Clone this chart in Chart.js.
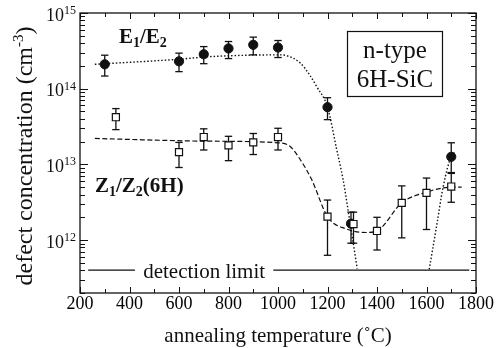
<!DOCTYPE html>
<html>
<head>
<meta charset="utf-8">
<script src="https://cdn.jsdelivr.net/npm/chart.js@4.4.1/dist/chart.umd.min.js"></script>
<style>
html, body { margin: 0; padding: 0; background: #fff; }
#wrap { width: 500px; height: 348px; }
</style>
</head>
<body>
<div id="wrap"><canvas id="chart" width="500" height="348"></canvas></div>
<script>
// E1/E2 (filled circles)
const eTemps = [300, 600, 700, 800, 900, 1000, 1200, 1295, 1700];
const eConc  = [2.1e14, 2.3e14, 2.85e14, 3.4e14, 3.8e14, 3.5e14, 5.7e13, 1.65e12, 1.26e13];
const eLow   = [1.47e14, 1.68e14, 2.14e14, 2.5e14, 2.8e14, 2.58e14, 3.9e13, 9.1e11, 7.8e12];
const eHigh  = [2.77e14, 2.95e14, 3.6e14, 4.2e14, 4.8e14, 4.33e14, 7.6e13, 2.34e12, 1.93e13];

// Z1/Z2(6H) (open squares)
const zTemps = [345, 600, 700, 800, 900, 1000, 1200, 1305, 1400, 1500, 1600, 1700];
const zConc  = [4.2e13, 1.45e13, 2.3e13, 1.78e13, 1.95e13, 2.3e13, 2.04e12, 1.63e12, 1.32e12, 3.1e12, 4.2e12, 5.1e12];
const zLow   = [2.88e13, 9.1e12, 1.55e13, 1.12e13, 1.35e13, 1.55e13, 6.3e11, 9.1e11, 7.4e11, 1.07e12, 1.38e12, 3.16e12];
const zHigh  = [5.46e13, 1.95e13, 2.95e13, 2.35e13, 2.56e13, 3.0e13, 3.38e12, 2.34e12, 2.0e12, 5.2e12, 6.6e12, 7.6e12];

// fit curves
const eFitLeftT  = [260, 600, 725, 1010, 1040, 1089, 1129, 1156, 1200, 1237, 1263, 1291, 1320];
const eFitLeftC  = [2.1e14, 2.45e14, 2.65e14, 2.8e14, 2.7e14, 2.2e14, 1.5e14, 1.07e14, 5.7e13, 1.58e13, 6.3e12, 1.7e12, 4.2e11];
const eFitRightT = [1611, 1641, 1668, 1701, 1719];
const eFitRightC = [4.1e11, 1.55e12, 5.2e12, 1.3e13, 1.45e13];
const zFitT = [260, 700, 1000, 1048, 1089, 1136, 1200, 1277, 1358, 1400, 1500, 1600, 1700, 1742];
const zFitC = [2.2e13, 2.03e13, 1.93e13, 1.74e13, 1.17e13, 6.3e12, 2.04e12, 1.4e12, 1.26e12, 1.32e12, 3.1e12, 4.3e12, 5.0e12, 5.0e12];

// detection limit line, split around its label
const detLimit = 4e11;
const detSegments = [[233, 422], [981, 1773]];

const xTicks = [200, 400, 600, 800, 1000, 1200, 1400, 1600, 1800];
const yDecades = [12, 13, 14, 15];

const SERIF = "'Liberation Serif', 'Times New Roman', serif";
const INK = '#111';

function pts(xs, ys) {
    return xs.map((x, i) => ({ x: x, y: ys[i] }));
}

function errorBars(xs, lo, hi) {
    const out = [];
    xs.forEach((x, i) => {
        out.push({ x: x, y: lo[i] }, { x: x, y: hi[i] }, { x: x, y: null });
    });
    return out;
}

function detData() {
    const out = [];
    detSegments.forEach(s => {
        out.push({ x: s[0], y: detLimit }, { x: s[1], y: detLimit }, { x: s[1], y: null });
    });
    return out;
}

function richText(ctx, parts, x, y, align) {
    let w = 0;
    parts.forEach(p => { ctx.font = p.font; p.w = ctx.measureText(p.t).width; w += p.w; });
    let cx = align === 'center' ? x - w / 2 : align === 'right' ? x - w : x;
    ctx.textAlign = 'left';
    ctx.textBaseline = 'alphabetic';
    parts.forEach(p => {
        ctx.font = p.font;
        ctx.fillText(p.t, cx, y + (p.dy || 0));
        cx += p.w;
    });
}

const decorations = {
    id: 'decorations',
    afterDraw(chart) {
        const ctx = chart.ctx;
        const a = chart.chartArea;
        const xs = chart.scales.x, ys = chart.scales.y;
        ctx.save();
        ctx.strokeStyle = INK;
        ctx.fillStyle = INK;

        // frame
        ctx.lineWidth = 1.3;
        ctx.strokeRect(a.left, a.top, a.right - a.left, a.bottom - a.top);

        // x ticks, inward on bottom and top
        ctx.lineWidth = 1;
        ctx.beginPath();
        for (let v = 200; v <= 1800; v += 100) {
            const px = Math.round(xs.getPixelForValue(v)) + 0.5;
            const len = v % 200 === 0 ? 6 : 4;
            ctx.moveTo(px, a.bottom); ctx.lineTo(px, a.bottom - len);
            ctx.moveTo(px, a.top); ctx.lineTo(px, a.top + len);
        }
        // y ticks, log minors
        for (let e = 11; e <= 15; e++) {
            for (let m = 1; m <= 9; m++) {
                const v = m * Math.pow(10, e);
                if (v < ys.min * 0.999 || v > ys.max * 1.001) continue;
                const py = Math.round(ys.getPixelForValue(v)) + 0.5;
                const len = m === 1 ? 8 : 5;
                ctx.moveTo(a.left, py); ctx.lineTo(a.left + len, py);
                ctx.moveTo(a.right, py); ctx.lineTo(a.right - len, py);
            }
        }
        ctx.stroke();

        // y tick labels 10^n
        yDecades.forEach(n => {
            const py = ys.getPixelForValue(Math.pow(10, n));
            richText(ctx, [
                { t: '10', font: '18px ' + SERIF },
                { t: String(n), font: '12px ' + SERIF, dy: -6.6 }
            ], 76, py + 7.6, 'right');
        });

        // axis titles
        ctx.save();
        ctx.translate(32, 156);
        ctx.rotate(-Math.PI / 2);
        richText(ctx, [
            { t: 'defect concentration (cm', font: '24px ' + SERIF },
            { t: '-3', font: '15px ' + SERIF, dy: -9 },
            { t: ')', font: '24px ' + SERIF }
        ], 0, 0, 'center');
        ctx.restore();
        richText(ctx, [{ t: 'annealing temperature (\u02DAC)', font: '21px ' + SERIF }],
            (a.left + a.right) / 2, 342, 'center');

        // detection limit label
        const dl = xs.getPixelForValue(detSegments[0][1]);
        const dr = xs.getPixelForValue(detSegments[1][0]);
        richText(ctx, [{ t: 'detection limit', font: '21px ' + SERIF }],
            (dl + dr) / 2, ys.getPixelForValue(detLimit) + 8, 'center');

        // series labels
        const B = 'bold 21px ' + SERIF, Bs = 'bold 14px ' + SERIF;
        richText(ctx, [
            { t: 'E', font: B }, { t: '1', font: Bs, dy: 4 },
            { t: '/E', font: B }, { t: '2', font: Bs, dy: 4 }
        ], 119, 43.3, 'left');
        richText(ctx, [
            { t: 'Z', font: B }, { t: '1', font: Bs, dy: 4 },
            { t: '/Z', font: B }, { t: '2', font: Bs, dy: 4 },
            { t: '(6H)', font: B }
        ], 95, 191.7, 'left');

        // sample box
        ctx.lineWidth = 1.2;
        ctx.strokeRect(347.5, 31.5, 95, 65);
        richText(ctx, [{ t: 'n-type', font: '25px ' + SERIF }], 395, 58, 'center');
        richText(ctx, [{ t: '6H-SiC', font: '25px ' + SERIF }], 395, 87, 'center');

        ctx.restore();
    }
};

const lineBase = {
    type: 'line',
    showLine: true,
    fill: false,
    pointRadius: 0,
    spanGaps: false,
    borderColor: INK,
    borderWidth: 1.3
};

new Chart(document.getElementById('chart'), {
    type: 'scatter',
    data: {
        datasets: [
            {
                label: 'Z1/Z2(6H)',
                data: pts(zTemps, zConc),
                pointStyle: 'rect',
                pointRadius: 5,
                backgroundColor: '#fff',
                borderColor: INK,
                borderWidth: 1.2
            },
            {
                label: 'E1/E2',
                data: pts(eTemps, eConc),
                pointStyle: 'circle',
                pointRadius: 4.6,
                backgroundColor: INK,
                borderColor: INK,
                borderWidth: 1
            },
            {
                ...lineBase,
                label: 'Z err',
                data: errorBars(zTemps, zLow, zHigh),
                pointStyle: 'line',
                pointRadius: 3.7,
                pointBorderWidth: 1.3,
                pointBorderColor: INK
            },
            {
                ...lineBase,
                label: 'E err',
                data: errorBars(eTemps, eLow, eHigh),
                pointStyle: 'line',
                pointRadius: 3.7,
                pointBorderWidth: 1.3,
                pointBorderColor: INK
            },
            {
                ...lineBase,
                label: 'E fit',
                data: pts(eFitLeftT, eFitLeftC),
                cubicInterpolationMode: 'monotone',
                borderDash: [1.5, 2],
                borderWidth: 1.4
            },
            {
                ...lineBase,
                label: 'E fit 2',
                data: pts(eFitRightT, eFitRightC),
                cubicInterpolationMode: 'monotone',
                borderDash: [1.5, 2],
                borderWidth: 1.4
            },
            {
                ...lineBase,
                label: 'Z fit',
                data: pts(zFitT, zFitC),
                cubicInterpolationMode: 'monotone',
                borderDash: [5, 2.5],
                borderWidth: 1.2
            },
            {
                ...lineBase,
                label: 'detection limit',
                data: detData(),
                borderWidth: 1.3
            }
        ]
    },
    options: {
        responsive: false,
        animation: false,
        events: [],
        layout: { padding: { top: 13, right: 24, left: 0, bottom: 0 } },
        plugins: {
            legend: { display: false },
            tooltip: { enabled: false }
        },
        scales: {
            x: {
                type: 'linear',
                min: 200,
                max: 1800,
                grid: { display: false, drawTicks: false },
                border: { display: false },
                afterBuildTicks: s => { s.ticks = xTicks.map(v => ({ value: v })); },
                ticks: {
                    padding: 0,
                    maxRotation: 0,
                    autoSkip: false,
                    color: '#000',
                    font: { family: SERIF, size: 18 },
                    callback: v => String(v)
                },
                afterFit: s => { s.height = 55; }
            },
            y: {
                type: 'logarithmic',
                min: 2e11,
                max: 1e15,
                grid: { display: false },
                border: { display: false },
                ticks: { display: false },
                afterFit: s => { s.width = 80; }
            }
        }
    },
    plugins: [decorations]
});
</script>
</body>
</html>
